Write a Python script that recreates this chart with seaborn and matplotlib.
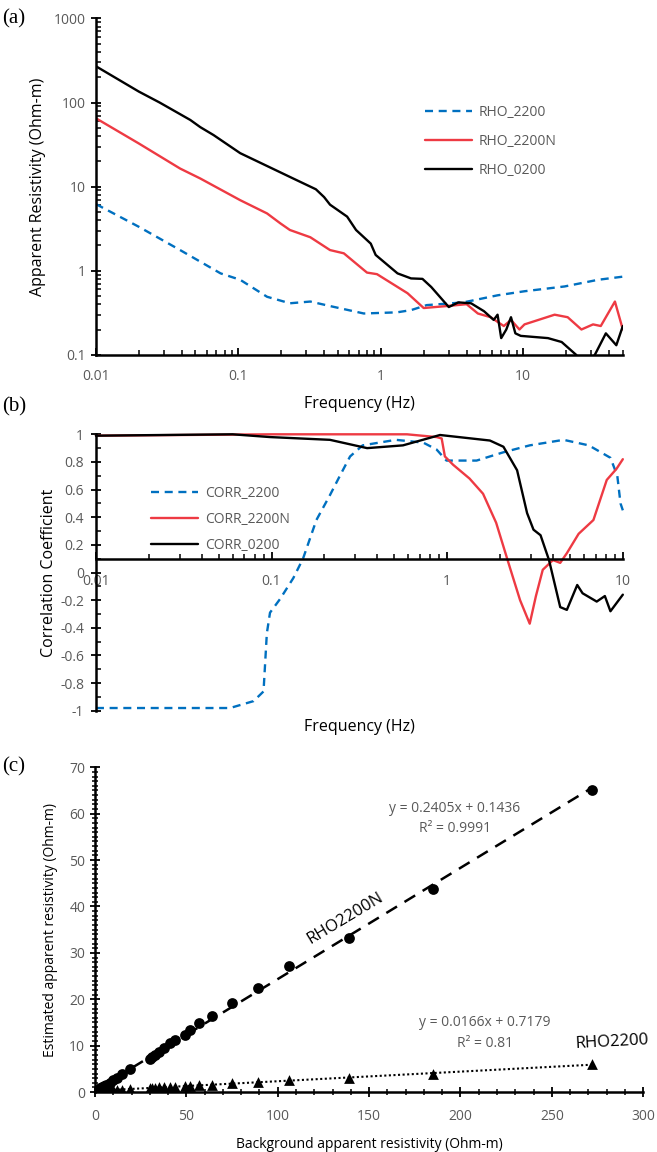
import numpy as np
import pandas as pd
import matplotlib
matplotlib.use("Agg")
import matplotlib.pyplot as plt
import matplotlib.ticker as mticker
import seaborn as sns

# ---- panel (a): apparent resistivity vs frequency ----
f_rho_0200 = [0.01, 0.02, 0.028, 0.046, 0.054, 0.067, 0.103, 0.16, 0.24, 0.35, 0.40, 0.44,
              0.58, 0.67, 0.85, 0.92, 1.31, 1.63, 1.96, 2.26, 3.0, 3.5, 4.3, 5.3, 6.2, 6.6,
              7.0, 7.6, 8.2, 8.8, 9.6, 14.9, 18.6, 23.5, 27.0, 31.8, 38.0, 45.0, 50.0]
rho_0200 = [270, 135, 100, 62, 51, 41, 25, 17.5, 12.6, 9.3, 7.5, 6.1,
            4.4, 3.05, 2.1, 1.54, 0.93, 0.81, 0.80, 0.64, 0.37, 0.42, 0.41, 0.33, 0.26, 0.30,
            0.158, 0.20, 0.28, 0.18, 0.168, 0.158, 0.142, 0.10, 0.07, 0.10, 0.18, 0.13, 0.22]

f_rho_2200n = [0.01, 0.020, 0.039, 0.054, 0.103, 0.159, 0.197, 0.23, 0.32, 0.44, 0.55, 0.76,
               0.80, 0.94, 1.54, 2.0, 2.9, 4.0, 4.8, 5.9, 7.3, 8.2, 9.4, 10.2, 16.6, 20.5,
               25.6, 30.9, 35.0, 44.0, 50.0]
rho_2200n = [65, 32.6, 16.4, 12.5, 6.9, 4.8, 3.66, 3.05, 2.5, 1.76, 1.61, 1.02,
             0.95, 0.91, 0.54, 0.36, 0.38, 0.40, 0.31, 0.28, 0.22, 0.26, 0.20, 0.23, 0.30, 0.28,
             0.20, 0.23, 0.22, 0.43, 0.20]

f_rho_2200 = [0.01, 0.020, 0.039, 0.075, 0.103, 0.159, 0.23, 0.32, 0.44, 0.76, 1.3, 1.63,
              2.1, 3.8, 6.6, 10.2, 19.5, 33.5, 50.0]
rho_2200 = [6.2, 3.33, 1.76, 0.93, 0.78, 0.49, 0.41, 0.43, 0.38, 0.31, 0.32, 0.34,
            0.39, 0.42, 0.51, 0.57, 0.65, 0.78, 0.85]

# ---- panel (b): correlation coefficient vs frequency ----
f_corr_2200 = [0.01, 0.058, 0.079, 0.090, 0.094, 0.098, 0.112, 0.133, 0.151, 0.18, 0.215,
               0.245, 0.28, 0.33, 0.51, 0.73, 0.87, 0.99, 1.47, 2.09, 2.95, 4.6, 6.4, 8.5,
               9.3, 9.7, 10.0]
corr_2200 = [-0.98, -0.98, -0.93, -0.86, -0.44, -0.29, -0.19, -0.04, 0.10, 0.38, 0.56,
             0.70, 0.84, 0.92, 0.96, 0.94, 0.89, 0.81, 0.81, 0.87, 0.92, 0.96, 0.92, 0.83,
             0.70, 0.50, 0.45]

f_corr_2200n = [0.01, 0.1, 0.215, 0.59, 0.87, 0.93, 0.97, 1.08, 1.34, 1.6, 1.9, 2.27, 2.6,
                2.95, 3.2, 3.5, 4.0, 4.4, 4.8, 5.6, 6.8, 8.1, 9.2, 10.0]
corr_2200n = [0.99, 1.0, 1.0, 1.0, 0.98, 0.97, 0.84, 0.78, 0.68, 0.57, 0.36, 0.04, -0.20,
              -0.37, -0.17, 0.02, 0.09, 0.07, 0.14, 0.28, 0.38, 0.67, 0.75, 0.82]

f_corr_0200 = [0.01, 0.06, 0.098, 0.215, 0.35, 0.56, 0.91, 1.75, 2.09, 2.5, 2.85, 3.1, 3.4,
               3.8, 4.4, 4.8, 5.5, 5.9, 7.1, 7.9, 8.5, 10.0]
corr_0200 = [0.99, 1.0, 0.98, 0.96, 0.90, 0.92, 0.995, 0.955, 0.91, 0.74, 0.43, 0.31, 0.27,
             0.09, -0.25, -0.27, -0.09, -0.15, -0.21, -0.17, -0.28, -0.16]

# ---- panel (c): estimated vs background resistivity ----
bg_rho = [0.5, 1, 2, 3, 4, 5, 6, 8, 10, 12, 15, 19, 30, 31, 33, 35, 38, 41, 44, 49, 52, 57,
          64, 75, 89, 106, 139, 185, 272]
est_2200n = [0.2, 0.3, 0.5, 0.8, 1.0, 1.3, 1.6, 2.0, 2.5, 3.0, 3.8, 5.0, 7.2, 7.5, 8.0, 8.7,
             9.6, 10.5, 11.2, 12.3, 13.3, 14.8, 16.5, 19.3, 22.5, 27.2, 33.2, 43.8, 65.0]
est_2200 = [0.3, 0.35, 0.35, 0.4, 0.4, 0.4, 0.4, 0.42, 0.45, 0.5, 0.5, 0.6, 0.8, 0.9, 0.9,
            1.0, 1.0, 1.1, 1.2, 1.3, 1.4, 1.5, 1.6, 1.9, 2.2, 2.5, 3.0, 4.0, 6.0]
eq_2200n = ["y = 0.2405x + 0.1436", "R² = 0.9991"]
eq_2200 = ["y = 0.0166x + 0.7179", "R² = 0.81"]

BLUE = "#0070C0"
RED = "#EE3A43"
GRAY = "#595959"

sns.set_style("white")
plt.rcParams['font.family'] = ['Open Sans', 'DejaVu Sans']

fig = plt.figure(figsize=(6.57, 11.52), dpi=100)
ax_a = fig.add_axes([0.146, 0.692, 0.802, 0.292])
ax_b = fig.add_axes([0.146, 0.383, 0.802, 0.240])
ax_c = fig.add_axes([0.1446, 0.052, 0.8344, 0.282])


def long_df(pairs):
    frames = []
    for name, xs, ys in pairs:
        frames.append(pd.DataFrame({'x': xs, 'y': ys, 'series': name}))
    return pd.concat(frames, ignore_index=True)


def style_axes(ax):
    for s in ['top', 'right']:
        ax.spines[s].set_visible(False)
    for s in ['left', 'bottom']:
        ax.spines[s].set_color('black')
        ax.spines[s].set_linewidth(1.8)
    ax.tick_params(which='major', direction='inout', length=7, width=1.3,
                   colors='black', labelcolor=GRAY, labelsize=10, left=True, bottom=True)
    ax.tick_params(which='minor', direction='in', length=3.5, width=1.1, colors='black',
                   left=True, bottom=True)
    ax.grid(False)


# panel (a)
df_a = long_df([('RHO_2200', f_rho_2200, rho_2200),
                ('RHO_2200N', f_rho_2200n, rho_2200n),
                ('RHO_0200', f_rho_0200, rho_0200)])
sns.lineplot(data=df_a, x='x', y='y', hue='series', style='series', sort=False,
             palette={'RHO_2200': BLUE, 'RHO_2200N': RED, 'RHO_0200': 'black'},
             dashes={'RHO_2200': (3.4, 2.4), 'RHO_2200N': '', 'RHO_0200': ''},
             linewidth=1.7, ax=ax_a)
ax_a.set_xscale('log')
ax_a.set_yscale('log')
ax_a.set_xlim(0.01, 50)
ax_a.set_ylim(0.1, 1000)
style_axes(ax_a)
ax_a.tick_params(axis='x', which='major', direction='in', length=5, pad=10)
ax_a.xaxis.set_major_formatter(mticker.FuncFormatter(lambda v, p: f"{v:g}"))
ax_a.yaxis.set_major_formatter(mticker.FuncFormatter(lambda v, p: f"{v:g}"))
ax_a.set_xlabel('Frequency (Hz)', fontsize=11.5, color='black', labelpad=9)
ax_a.set_ylabel('Apparent Resistivity (Ohm-m)', fontsize=11.5, color='black', labelpad=6)
leg = ax_a.legend(frameon=False, loc='upper left', bbox_to_anchor=(0.6, 0.78),
                  fontsize=10, handlelength=3.4, labelspacing=1.0, handletextpad=0.5)
for t in leg.get_texts():
    t.set_color(GRAY)

# panel (b)
df_b = long_df([('CORR_2200', f_corr_2200, corr_2200),
                ('CORR_2200N', f_corr_2200n, corr_2200n),
                ('CORR_0200', f_corr_0200, corr_0200)])
sns.lineplot(data=df_b, x='x', y='y', hue='series', style='series', sort=False,
             palette={'CORR_2200': BLUE, 'CORR_2200N': RED, 'CORR_0200': 'black'},
             dashes={'CORR_2200': (3.4, 2.4), 'CORR_2200N': '', 'CORR_0200': ''},
             linewidth=1.7, ax=ax_b, clip_on=False)
ax_b.set_xscale('log')
ax_b.set_xlim(0.01, 10)
ax_b.set_ylim(-1, 1)
style_axes(ax_b)
# the horizontal axis crosses the vertical one at 0.1
ax_b.spines['bottom'].set_position(('data', 0.1))
ax_b.tick_params(axis='x', which='major', direction='in', length=5, pad=11)
ax_b.tick_params(axis='y', which='major', pad=5)
ax_b.set_yticks(np.arange(-1, 1.01, 0.2))
ax_b.yaxis.set_minor_locator(mticker.MultipleLocator(0.1))
ax_b.yaxis.set_major_formatter(mticker.FuncFormatter(lambda v, p: f"{v:.1f}".rstrip('0').rstrip('.') if abs(v) > 1e-9 else "0"))
ax_b.xaxis.set_major_formatter(mticker.FuncFormatter(lambda v, p: f"{v:g}"))
ax_b.set_xlabel('Frequency (Hz)', fontsize=11.5, color='black')
ax_b.xaxis.set_label_coords(0.5, -0.03)
ax_b.set_ylabel('Correlation Coefficient', fontsize=11.5, color='black', labelpad=2)
leg = ax_b.legend(frameon=False, loc='upper left', bbox_to_anchor=(0.08, 0.86),
                  fontsize=10, handlelength=3.4, labelspacing=0.8, handletextpad=0.5)
for t in leg.get_texts():
    t.set_color(GRAY)

# panel (c)
sns.regplot(x=bg_rho, y=est_2200n, ci=None, ax=ax_c, color='black', marker='o',
            scatter_kws={'s': 60, 'alpha': 1, 'linewidths': 0, 'zorder': 3},
            line_kws={'linestyle': (0, (5, 3.5)), 'linewidth': 1.8})
sns.regplot(x=bg_rho, y=est_2200, ci=None, ax=ax_c, color='black', marker='^',
            scatter_kws={'s': 60, 'alpha': 1, 'linewidths': 0, 'zorder': 3},
            line_kws={'linestyle': (0, (1, 1.2)), 'linewidth': 1.5})
ax_c.set_xlim(0, 300)
ax_c.set_ylim(0, 70)
style_axes(ax_c)
ax_c.xaxis.set_major_locator(mticker.MultipleLocator(50))
ax_c.xaxis.set_minor_locator(mticker.MultipleLocator(10))
ax_c.yaxis.set_major_locator(mticker.MultipleLocator(10))
ax_c.yaxis.set_minor_locator(mticker.MultipleLocator(1))
ax_c.tick_params(which='minor', direction='inout', length=4)
ax_c.tick_params(axis='x', which='major', pad=9)
ax_c.set_xlabel('Background apparent resistivity (Ohm-m)', fontsize=10, color='black', labelpad=9)
ax_c.set_ylabel('Estimated apparent resistivity (Ohm-m)', fontsize=10, color='black', labelpad=8)
ax_c.text(197, 61.2, eq_2200n[0], fontsize=10, color=GRAY, ha='center', va='center')
ax_c.text(197, 56.9, eq_2200n[1], fontsize=10, color=GRAY, ha='center', va='center')
ax_c.text(213.5, 14.9, eq_2200[0], fontsize=10, color=GRAY, ha='center', va='center')
ax_c.text(213.5, 10.5, eq_2200[1], fontsize=10, color=GRAY, ha='center', va='center')
ax_c.text(137, 37.5, 'RHO2200N', fontsize=12, color='black', ha='center', va='center',
          rotation=31)
ax_c.text(283, 10.8, 'RHO2200', fontsize=12, color='black', ha='center', va='center',
          rotation=3)

# panel tags
for label, y in [('(a)', 0.984), ('(b)', 0.647), ('(c)', 0.334)]:
    fig.text(0.003, y, label, fontsize=15, family='Liberation Serif', color='black',
             ha='left', va='center')

fig.savefig('out.png', dpi=100)
